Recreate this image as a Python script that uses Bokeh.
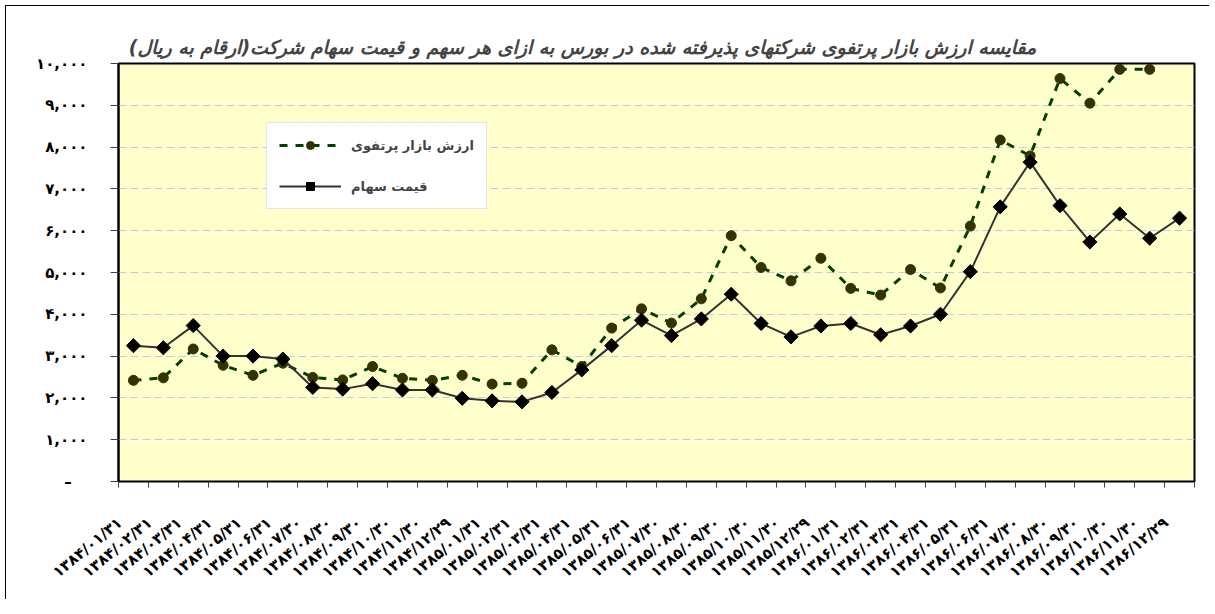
import math
from bokeh.plotting import figure
from bokeh.models import FixedTicker, Range1d, Legend, LegendItem
from bokeh.embed import file_html
from bokeh.resources import INLINE

# ---------------- data ----------------
dates = [
    "۱۳۸۴/۰۱/۳۱", "۱۳۸۴/۰۲/۳۱", "۱۳۸۴/۰۳/۳۱", "۱۳۸۴/۰۴/۳۱", "۱۳۸۴/۰۵/۳۱", "۱۳۸۴/۰۶/۳۱",
    "۱۳۸۴/۰۷/۳۰", "۱۳۸۴/۰۸/۳۰", "۱۳۸۴/۰۹/۳۰", "۱۳۸۴/۱۰/۳۰", "۱۳۸۴/۱۱/۳۰", "۱۳۸۴/۱۲/۲۹",
    "۱۳۸۵/۰۱/۳۱", "۱۳۸۵/۰۲/۳۱", "۱۳۸۵/۰۳/۳۱", "۱۳۸۵/۰۴/۳۱", "۱۳۸۵/۰۵/۳۱", "۱۳۸۵/۰۶/۳۱",
    "۱۳۸۵/۰۷/۳۰", "۱۳۸۵/۰۸/۳۰", "۱۳۸۵/۰۹/۳۰", "۱۳۸۵/۱۰/۳۰", "۱۳۸۵/۱۱/۳۰", "۱۳۸۵/۱۲/۲۹",
    "۱۳۸۶/۰۱/۳۱", "۱۳۸۶/۰۲/۳۱", "۱۳۸۶/۰۳/۳۱", "۱۳۸۶/۰۴/۳۱", "۱۳۸۶/۰۵/۳۱", "۱۳۸۶/۰۶/۳۱",
    "۱۳۸۶/۰۷/۳۰", "۱۳۸۶/۰۸/۳۰", "۱۳۸۶/۰۹/۳۰", "۱۳۸۶/۱۰/۳۰", "۱۳۸۶/۱۱/۳۰", "۱۳۸۶/۱۲/۲۹",
]

market_value = [
    2420, 2480, 3170, 2780, 2540, 2830, 2490, 2430, 2750, 2470, 2420, 2540,
    2330, 2350, 3150, 2750, 3670, 4130, 3790, 4370, 5880, 5120, 4800, 5340,
    4620, 4460, 5070, 4630, 6110, 8170, 7790, 9640, 9050, 9860, 9860, float("nan"),
]

share_price = [
    3250, 3200, 3730, 3000, 3000, 2930, 2250, 2210, 2340, 2190, 2190, 1990,
    1930, 1905, 2130, 2670, 3250, 3860, 3490, 3890, 4480, 3780, 3460, 3720,
    3780, 3510, 3720, 4000, 5020, 6570, 7640, 6600, 5730, 6400, 5820, 6300,
]

y_ticks = [0, 1000, 2000, 3000, 4000, 5000, 6000, 7000, 8000, 9000, 10000]
y_tick_labels = ["–\u00a0\u00a0\u00a0", "۱,۰۰۰", "۲,۰۰۰", "۳,۰۰۰", "۴,۰۰۰", "۵,۰۰۰",
                 "۶,۰۰۰", "۷,۰۰۰", "۸,۰۰۰", "۹,۰۰۰", "۱۰,۰۰۰"]

title_text = "\u200fمقایسه ارزش بازار پرتفوی شرکتهای پذیرفته شده  در بورس  به ازای هر سهم و قیمت سهام شرکت(ارقام به ریال)\u200f"
series_names = ["ارزش بازار پرتفوی", "قیمت سهام"]

FONT = "DejaVu Sans"
x = list(range(1, len(dates) + 1))
label_pos = [i - 0.45 for i in x]

# ---------------- figure ----------------
p = figure(
    width=1204, height=594,
    output_backend="svg", toolbar_location=None,
    x_range=Range1d(0.5, len(dates) + 0.5),
    y_range=Range1d(0, 10000),
    min_border_left=112, min_border_right=16,
    min_border_top=57, min_border_bottom=119,
    background_fill_color="#FFFFCC",
    border_fill_color="white",
)
p.margin = (5, 0, 0, 5)
p.styles = {"border-left": "1px solid black", "border-top": "1px solid black"}
p.outline_line_color = "black"
p.outline_line_width = 2

# title
p.title.text = title_text
p.title.align = "right"
p.title.offset = 145
p.title.text_font = FONT
p.title.text_font_style = "bold italic"
p.title.text_font_size = "19px"
p.title.standoff = 11

# x axis
p.xaxis.ticker = FixedTicker(ticks=label_pos, minor_ticks=[i + 0.5 for i in range(0, len(dates) + 1)])
p.xaxis.major_label_overrides = {t: d for t, d in zip(label_pos, dates)}
p.xaxis.major_tick_line_color = None
p.xaxis.minor_tick_line_color = "#404040"
p.xaxis.minor_tick_in = 0
p.xaxis.minor_tick_out = 6
p.xaxis.axis_line_color = "black"
p.xaxis.axis_line_width = 1
p.xaxis.major_label_orientation = 0.69
p.xaxis.major_label_standoff = 33
p.xaxis.major_label_text_font = FONT
p.xaxis.major_label_text_font_style = "bold"
p.xaxis.major_label_text_font_size = "15px"
p.xaxis.major_label_text_color = "black"

# y axis
p.yaxis.ticker = FixedTicker(ticks=y_ticks, minor_ticks=[])
p.yaxis.major_label_overrides = {t: l for t, l in zip(y_ticks, y_tick_labels)}
p.yaxis.major_tick_in = 0
p.yaxis.major_tick_out = 8
p.yaxis.major_tick_line_color = "#404040"
p.yaxis.minor_tick_line_color = None
p.yaxis.axis_line_color = "black"
p.yaxis.axis_line_width = 2
p.yaxis.major_label_standoff = 23
p.yaxis.major_label_text_font = FONT
p.yaxis.major_label_text_font_style = "bold"
p.yaxis.major_label_text_font_size = "15px"
p.yaxis.major_label_text_color = "black"

# grid
p.xgrid.grid_line_color = None
p.ygrid.grid_line_color = "#C8C8EC"
p.ygrid.grid_line_dash = "8 4"
p.ygrid.grid_line_width = 1

# series
l1 = p.line(x, market_value, line_color="#004000", line_width=3, line_dash="8 8")
s1 = p.scatter(x, market_value, marker="circle", size=10,
               fill_color="#333300", line_color="#333300")
l2 = p.line(x, share_price, line_color="#333333", line_width=2)
s2 = p.scatter(x, share_price, marker="square", angle=math.pi / 4, size=10,
               fill_color="black", line_color="black")

legend = Legend(
    items=[LegendItem(label=series_names[0], renderers=[l1, s1]),
           LegendItem(label=series_names[1], renderers=[l2, s2])],
    location=(148, 272),
)
legend.label_text_font = FONT
legend.label_text_font_style = "bold"
legend.label_text_font_size = "13px"
legend.glyph_width = 62
legend.glyph_height = 20
legend.label_height = 20
legend.label_standoff = 10
legend.spacing = 21
legend.padding = 12
legend.margin = 0
legend.border_line_color = "#C8C8E8"
legend.border_line_width = 1
legend.background_fill_color = "white"
legend.background_fill_alpha = 1
p.add_layout(legend)

open("out.html", "w").write(file_html(p, INLINE))
